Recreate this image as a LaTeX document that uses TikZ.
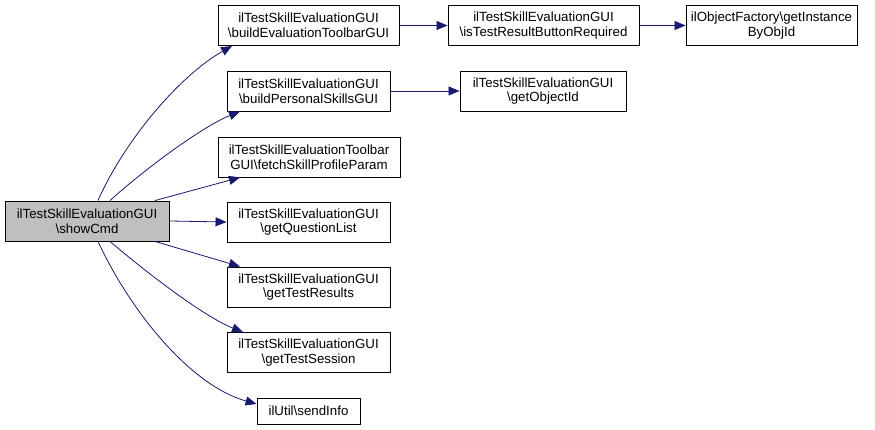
\documentclass[tikz,border=0pt]{standalone}
\usepackage{fontspec}
\setmainfont{Liberation Sans}
\usetikzlibrary{arrows.meta}
\definecolor{callblue}{RGB}{25,25,112}
\definecolor{rootgray}{RGB}{191,191,191}
\tikzset{
  fn/.style={draw=black, line width=0.9pt, rectangle, align=center,
    inner xsep=2pt, inner ysep=0pt, minimum height=40pt,
    font=\fontsize{13.3}{14.5}\selectfont},
  call/.style={draw=callblue, line width=0.8pt,
    -{Triangle[length=11pt,width=9pt]}, fill=none}
}
\newcommand{\bsl}{\textbackslash}
\begin{document}
\begin{tikzpicture}[x=1pt,y=-1pt]
      \useasboundingbox (0,0) rectangle (875,430);
      \draw
        (87,221) node[fn, fill=rootgray, minimum width=164pt] (root){ilTestSkillEvaluationGUI\\\bsl showCmd}
        (308.5,25.5) node[fn, minimum width=181pt] (bet){ilTestSkillEvaluationGUI\\\bsl buildEvaluationToolbarGUI}
        (308.5,91) node[fn, minimum width=163pt] (bps){ilTestSkillEvaluationGUI\\\bsl buildPersonalSkillsGUI}
        (309,157) node[fn, minimum width=182pt] (fsp){ilTestSkillEvaluationToolbar\\GUI\bsl fetchSkillProfileParam}
        (308.5,222) node[fn, minimum width=163pt] (gql){ilTestSkillEvaluationGUI\\\bsl getQuestionList}
        (308.5,287) node[fn, minimum width=163pt] (gtr){ilTestSkillEvaluationGUI\\\bsl getTestResults}
        (308.5,352.5) node[fn, minimum width=163pt] (gts){ilTestSkillEvaluationGUI\\\bsl getTestSession}
        (308.5,411) node[fn, minimum width=103pt, minimum height=26pt] (si){ilUtil\bsl sendInfo}
        (543.5,25.5) node[fn, minimum width=191pt] (itr){ilTestSkillEvaluationGUI\\\bsl isTestResultButtonRequired}
        (543,91) node[fn, minimum width=166pt] (goi){ilTestSkillEvaluationGUI\\\bsl getObjectId}
        (771.5,25.5) node[fn, minimum width=171pt] (gio){ilObjectFactory\bsl getInstance\\ByObjId};
      \begin{scope}[call]
        \draw ([xshift=11pt]root.north) .. controls +(27,-61) and +(-52,29.5) .. ([xshift=-76.5pt]bet.south);
        \draw ([xshift=23pt]root.north) .. controls +(40,-36) and +(-35,14) .. ([xshift=-68.5pt]bps.south);
        \draw ([xshift=68pt]root.north) to ([xshift=-69pt]fsp.south);
        \draw (root.east) to (gql.west);
        \draw ([xshift=68pt]root.south) to ([xshift=-68.5pt]gtr.north);
        \draw ([xshift=23pt]root.south) .. controls +(40,34) and +(-38,-15) .. ([xshift=-65.5pt]gts.north);
        \draw ([xshift=11pt]root.south) .. controls +(32,69) and +(-67,-19) .. ([yshift=7pt]si.west);
        \draw (bet.east) to (itr.west);
        \draw (bps.east) to (goi.west);
        \draw (itr.east) to (gio.west);
      \end{scope}
    \end{tikzpicture}
\end{document}
